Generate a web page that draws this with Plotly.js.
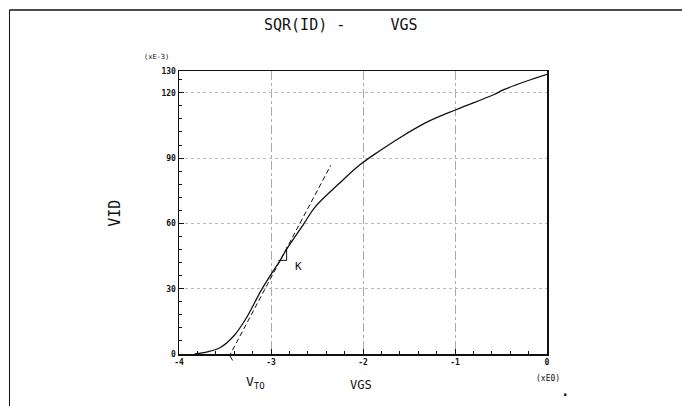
<!DOCTYPE html>
<html><head><meta charset="utf-8">
<script src="https://cdn.plot.ly/plotly-3.0.1.min.js"></script>
<style>body{margin:0;background:#fff}</style>
</head><body><div id="chart" style="width:682px;height:406px"></div>
<script>
// measured curve SQR(ID) vs VGS
const vgs = [-3.83, -3.69, -3.55, -3.40, -3.26, -3.11, -2.97, -2.90, -2.84, -2.64, -2.52, -2.26, -2.03, -1.83, -1.59, -1.30, -0.99, -0.58, -0.47, -0.22, 0.0];
const sqrId = [0.0, 1.0, 3.0, 8.5, 17.1, 29.0, 38.5, 43.0, 47.5, 60.0, 67.6, 78.3, 87.0, 93.0, 99.6, 106.6, 112.2, 119.1, 121.4, 125.4, 128.5];
// tangent (dashed) line
const tanX = [-3.46, -2.35];
const tanY = [-1.5, 86.7];
// slope triangle near K
const triX = [-2.92, -2.83, -2.83];
const triY = [43.0, 43.0, 49.0];
// ticks
const xTickVals = [-4, -3, -2, -1, 0];
const xTickText = ['-4', '-3', '-2', '-1', '0'];
const yTickVals = [0, 30, 60, 90, 120, 130];
const yTickText = ['0', '30', '60', '90', '120', '130'];

const mono = 'DejaVu Sans Mono, monospace';
const ink = '#111';
const traces = [
  {x: vgs, y: sqrId, mode: 'lines', line: {color: ink, width: 1.3, shape: 'spline', smoothing: 1}, hoverinfo: 'skip'},
  {x: tanX, y: tanY, mode: 'lines', line: {color: ink, width: 1, dash: '5px,3px'}, hoverinfo: 'skip'},
  {x: triX, y: triY, mode: 'lines', line: {color: ink, width: 1}, hoverinfo: 'skip'}
];
const tf = {family: mono, size: 8, color: ink, weight: 'bold'};
const layout = {
  width: 682, height: 406,
  margin: {l: 179, r: 135, t: 71, b: 52},
  paper_bgcolor: '#fff', plot_bgcolor: '#fff',
  showlegend: false,
  xaxis: {
    range: [-4, 0], tickvals: xTickVals, ticktext: xTickText,
    ticks: 'inside', ticklen: 5, tickcolor: ink,
    minor: {dtick: 0.2, ticks: 'inside', ticklen: 3, tickcolor: ink, showgrid: false},
    showgrid: true, gridcolor: '#aaa', griddash: 'dashdot', gridwidth: 1,
    showline: true, linecolor: ink, linewidth: 1.5, mirror: true,
    zeroline: false, tickfont: tf
  },
  yaxis: {
    range: [0, 130], tickvals: yTickVals, ticktext: yTickText,
    ticks: 'inside', ticklen: 5, tickcolor: ink,
    minor: {dtick: 6, ticks: 'inside', ticklen: 3, tickcolor: ink, showgrid: false},
    showgrid: true, gridcolor: '#bbb', griddash: 'dot', gridwidth: 1,
    showline: true, linecolor: ink, linewidth: 1.5, mirror: true,
    zeroline: false, tickfont: tf
  },
  shapes: [
    {type: 'line', xref: 'paper', yref: 'paper', x0: -0.4606, x1: 1.4, y0: 1.2155, y1: 1.2155, line: {color: ink, width: 1.5}},
    {type: 'line', xref: 'paper', yref: 'paper', x0: -0.4606, x1: -0.4606, y0: 1.2155, y1: -0.2, line: {color: ink, width: 1}}
  ],
  annotations: [
    {text: 'SQR(ID) -     VGS', xref: 'paper', yref: 'paper', x: 0.44, y: 1.1625, xanchor: 'center', yanchor: 'middle', showarrow: false, font: {family: mono, size: 15, color: ink}},
    {text: '(xE-3)', xref: 'paper', yref: 'paper', x: -0.0625, y: 1.05, xanchor: 'center', yanchor: 'middle', showarrow: false, font: {family: mono, size: 7, color: ink}},
    {text: '(xE0)', xref: 'paper', yref: 'paper', x: 1.003, y: -0.085, xanchor: 'center', yanchor: 'middle', showarrow: false, font: {family: mono, size: 8, color: ink}},
    {text: 'VGS', xref: 'paper', yref: 'paper', x: 0.495, y: -0.109, xanchor: 'center', yanchor: 'middle', showarrow: false, font: {family: mono, size: 12, color: ink}},
    {text: 'VID', xref: 'paper', yref: 'paper', x: -0.174, y: 0.499, xanchor: 'center', yanchor: 'middle', textangle: -90, showarrow: false, font: {family: mono, size: 15, color: ink}},
    {text: 'V<sub>TO</sub>', xref: 'paper', yref: 'paper', x: 0.209, y: -0.102, xanchor: 'center', yanchor: 'middle', showarrow: false, font: {family: mono, size: 13, color: ink}},
    {text: 'K', x: -2.70, y: 40.4, xanchor: 'center', yanchor: 'middle', showarrow: false, font: {family: mono, size: 11, color: ink}},
    {text: '', x: -3.46, y: 0, ax: 5, ay: 8, showarrow: true, arrowhead: 0, arrowwidth: 1, arrowcolor: ink, standoff: 0},
    {text: '.', xref: 'paper', yref: 'paper', x: 1.05, y: -0.13, xanchor: 'center', yanchor: 'middle', showarrow: false, font: {family: mono, size: 14, color: ink, weight: 'bold'}}
  ]
};
Plotly.newPlot('chart', traces, layout, {displayModeBar: false, staticPlot: true});
</script></body></html>
